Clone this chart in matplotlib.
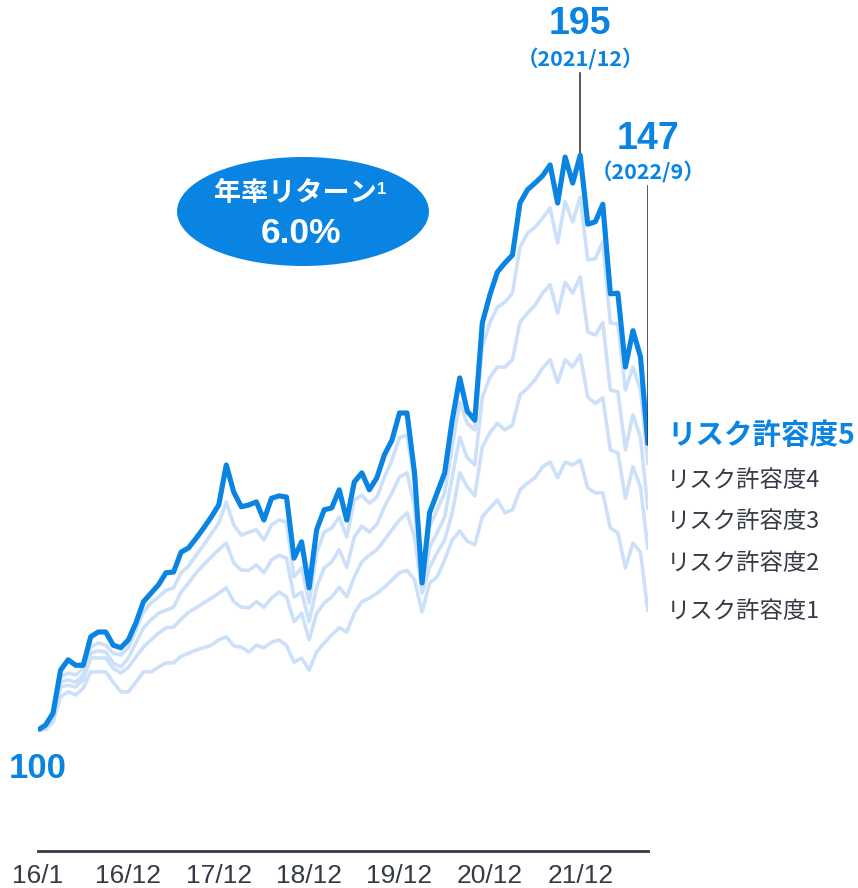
import matplotlib
matplotlib.use("Agg")
import matplotlib.pyplot as plt
from matplotlib.patches import Ellipse
import numpy as np

# ---------------- data (index values, 2015/12 = 100, monthly to 2022/9) ----------------
risk5 = [100.0, 100.8, 102.8, 109.9, 111.6, 110.7, 110.7, 115.4, 116.2, 116.2,
         114.0, 113.6, 114.9, 117.7, 121.2, 122.6, 124.0, 126.0, 126.1, 129.4,
         130.1, 131.7, 133.4, 135.2, 137.2, 143.8, 139.3, 136.9, 137.2, 137.7,
         134.7, 138.3, 138.7, 138.5, 128.4, 131.1, 123.5, 133.1, 136.4, 136.7,
         139.7, 134.7, 141.0, 142.5, 139.7, 141.7, 145.5, 147.9, 152.4, 152.4,
         142.5, 124.3, 135.9, 139.2, 142.5, 151.2, 158.2, 152.7, 151.2, 167.3,
         171.9, 175.7, 177.2, 178.5, 187.1, 189.3, 190.4, 191.6, 193.4, 187.1,
         194.7, 190.4, 195.0, 183.6, 184.0, 186.9, 172.1, 172.2, 160.0, 166.0,
         161.7, 147.1]
risk4 = [100.0, 100.5, 102.3, 108.8, 109.4, 109.1, 110.2, 113.7, 114.4, 114.0,
         112.7, 112.4, 113.6, 116.5, 119.5, 121.0, 122.0, 123.1, 123.5, 126.0,
         127.1, 128.9, 130.6, 132.4, 134.2, 137.7, 133.9, 132.2, 132.7, 133.1,
         131.4, 133.9, 134.7, 134.4, 125.3, 126.8, 121.0, 129.3, 132.7, 133.4,
         135.2, 131.9, 138.0, 138.8, 137.5, 138.5, 141.8, 144.6, 148.3, 148.8,
         140.8, 123.5, 133.6, 136.4, 139.2, 146.8, 154.2, 150.7, 149.6, 163.3,
         167.3, 169.9, 170.7, 172.2, 179.8, 182.1, 183.1, 184.6, 186.3, 180.5,
         187.3, 184.0, 188.1, 177.7, 177.9, 180.7, 167.3, 167.1, 156.2, 160.0,
         156.2, 143.8]
risk3 = [100.0, 100.3, 102.0, 107.9, 108.3, 107.9, 109.1, 112.7, 113.1, 112.9,
         111.1, 110.4, 111.9, 114.4, 116.9, 118.2, 119.3, 119.8, 120.3, 122.8,
         124.3, 126.0, 127.3, 128.6, 129.8, 130.9, 127.6, 126.4, 126.4, 127.3,
         126.0, 128.1, 128.9, 128.4, 122.0, 122.8, 117.9, 123.6, 126.8, 127.8,
         129.8, 126.9, 131.9, 133.7, 132.7, 134.0, 136.9, 139.2, 141.8, 142.5,
         136.9, 123.1, 130.2, 132.6, 135.2, 141.8, 148.4, 145.0, 143.8, 155.0,
         158.3, 160.0, 160.0, 161.2, 167.4, 168.9, 170.2, 172.2, 173.6, 168.9,
         174.0, 172.2, 174.9, 165.8, 165.3, 167.3, 156.2, 155.9, 146.3, 152.1,
         148.4, 136.4]
risk2 = [100.0, 100.2, 101.7, 107.1, 107.4, 107.1, 108.3, 111.9, 111.9, 111.9,
         110.2, 109.4, 110.4, 112.1, 113.7, 114.9, 116.0, 116.9, 117.0, 118.3,
         119.5, 120.2, 121.0, 121.8, 122.6, 123.5, 121.2, 120.3, 120.2, 121.2,
         120.3, 121.8, 122.8, 122.0, 117.9, 119.3, 114.9, 119.3, 121.0, 122.0,
         123.6, 122.0, 125.3, 127.8, 128.9, 129.8, 131.4, 133.1, 134.7, 135.9,
         131.9, 122.6, 126.9, 129.3, 131.4, 135.9, 142.5, 140.2, 138.7, 146.8,
         149.1, 150.7, 149.6, 150.4, 155.4, 156.5, 157.9, 159.8, 161.2, 157.4,
         161.2, 160.0, 162.0, 155.0, 154.0, 154.9, 146.3, 145.8, 138.3, 143.5,
         140.2, 129.8]
risk1 = [100.0, 100.1, 101.3, 105.5, 106.3, 105.8, 106.9, 109.6, 109.6, 109.6,
         107.9, 106.3, 106.3, 107.9, 109.6, 109.6, 110.4, 111.1, 111.1, 112.2,
         112.7, 113.2, 113.6, 114.0, 114.9, 115.4, 113.9, 113.7, 112.9, 114.0,
         113.6, 114.5, 114.9, 114.0, 111.2, 111.9, 109.9, 112.9, 114.4, 115.7,
         116.9, 116.2, 119.3, 121.2, 121.8, 122.6, 123.6, 124.8, 126.0, 126.4,
         124.8, 119.5, 124.3, 125.3, 128.1, 131.4, 132.9, 131.2, 130.6, 135.2,
         136.7, 138.0, 135.9, 136.4, 139.7, 140.8, 141.7, 143.5, 144.3, 141.7,
         144.3, 143.8, 144.6, 140.0, 139.2, 139.2, 133.4, 132.6, 126.8, 130.9,
         129.4, 119.5]

tick_pos = [0, 12, 24, 36, 48, 60, 72]
tick_labels = ["16/1", "16/12", "17/12", "18/12", "19/12", "20/12", "21/12"]
series_labels = ["リスク許容度1", "リスク許容度2", "リスク許容度3", "リスク許容度4", "リスク許容度5"]
peak_label = "（2021/12）"
end_label = "（2022/9）"
bubble_title = "年率リターン"
bubble_value = "6.0%"

# ---------------- style ----------------
BLUE = "#0a84e2"
LIGHT = "#cce0fa"
DARK = "#353a46"
W, H = 858, 888
CJK = ["Noto Sans CJK JP", "DejaVu Sans"]
NUM = ["Liberation Sans", "Noto Sans CJK JP", "DejaVu Sans"]
NARROW = ["Liberation Sans Narrow", "Liberation Sans", "DejaVu Sans"]

fig = plt.figure(figsize=(W / 100, H / 100), dpi=100)
ax = fig.add_axes([38 / W, (H - 851) / H, 610 / W, 851 / H])

x = np.arange(len(risk5))
for s in [risk1, risk2, risk3, risk4]:
    ax.plot(x, s, color=LIGHT, lw=2.6, solid_joinstyle="round", solid_capstyle="butt", zorder=2)
ax.plot(x, risk5, color=BLUE, lw=3.7, solid_joinstyle="round", solid_capstyle="butt", zorder=3)

ax.set_xlim(0, len(risk5) - 1)
ax.set_ylim(80, 100 + 730 / 6.05)
for sp in ["top", "right", "left"]:
    ax.spines[sp].set_visible(False)
ax.spines["bottom"].set_color(DARK)
ax.spines["bottom"].set_linewidth(2.0)
ax.set_yticks([])
ax.set_xticks(tick_pos)
ax.set_xticklabels(tick_labels, fontsize=19, color=DARK, family=NARROW)
ax.tick_params(axis="x", length=0, pad=9)
ax.patch.set_alpha(0)

# start label
ax.annotate("100", xy=(0, risk5[0]), xytext=(0, -27.5), textcoords="offset points",
            ha="center", va="center", fontsize=25, fontweight="bold", color=BLUE, family=NUM)

# peak annotation
ip = int(np.argmax(risk5))
ax.plot([ip, ip], [risk5[ip], 208.6], color=DARK, lw=1.2, zorder=1)
ax.text(ip, 216.7, f"{risk5[ip]:.0f}", ha="center", va="center", fontsize=27,
        fontweight="bold", color=BLUE, family=NUM)
ax.text(ip, 210.9, peak_label, ha="center", va="center", fontsize=15.5,
        fontweight="bold", color=BLUE, family=CJK)

# end annotation
ie = len(risk5) - 1
ax.plot([ie, ie], [risk5[ie], 189.9], color=DARK, lw=1.2, zorder=4)
ax.text(ie, 197.7, f"{risk5[ie]:.0f}", ha="center", va="center", fontsize=27,
        fontweight="bold", color=BLUE, family=NUM)
ax.text(ie, 192.1, end_label, ha="center", va="center", fontsize=15.5,
        fontweight="bold", color=BLUE, family=CJK)

# bubble
def fx(px):
    return px / W

def fy(py):
    return 1 - py / H

ell = Ellipse((fx(303), fy(211.5)), width=252 / W, height=109 / H, transform=fig.transFigure,
              facecolor=BLUE, edgecolor="none", zorder=5)
fig.patches.append(ell)
fig.text(fx(295), fy(193), bubble_title, ha="center", va="center", fontsize=19.5,
         fontweight="bold", color="white", family=CJK, zorder=6)
fig.text(fx(377), fy(190), "1", ha="left", va="center", fontsize=12,
         fontweight="bold", color="white", family=NUM, zorder=6)
fig.text(fx(301), fy(233), bubble_value, ha="center", va="center", fontsize=25.5,
         fontweight="bold", color="white", family=NUM, zorder=6)

# right labels
label_y = [611, 563, 521, 480, 436]
for i, (lab, yy) in enumerate(zip(series_labels, label_y)):
    if i == 4:
        fig.text(fx(667), fy(yy), lab, ha="left", va="center", fontsize=20.5,
                 fontweight="bold", color=BLUE, family=CJK)
    else:
        fig.text(fx(667), fy(yy), lab, ha="left", va="center", fontsize=16.8,
                 color=DARK, family=CJK)

fig.savefig("out.png", dpi=100, facecolor="white")
